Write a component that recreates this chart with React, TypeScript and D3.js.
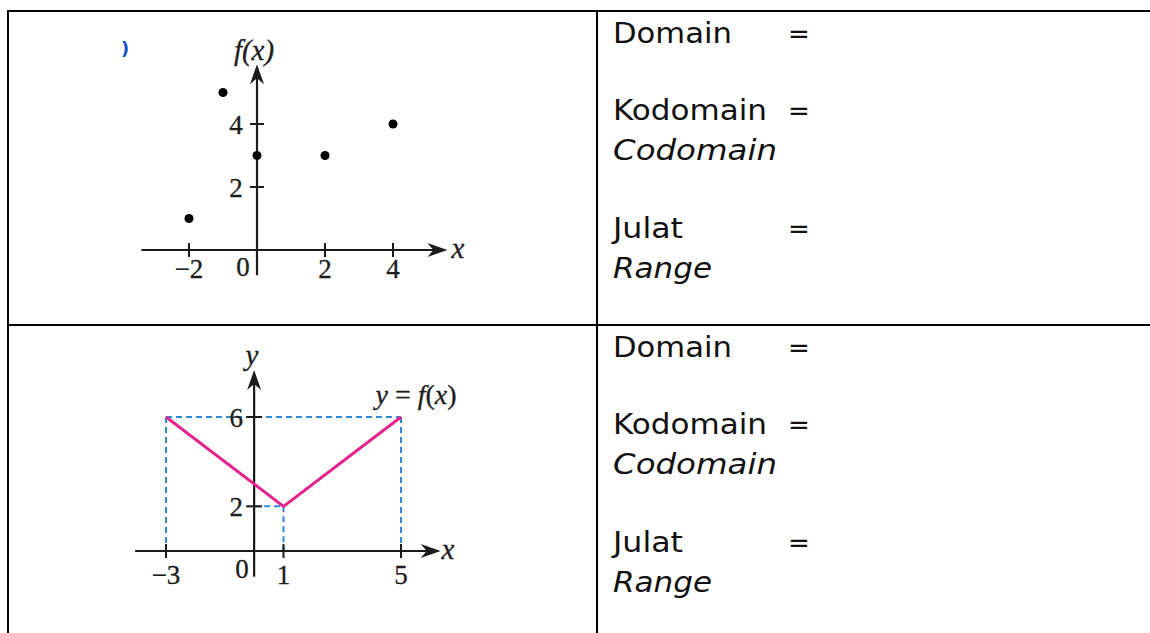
import React, { useEffect, useRef } from 'react'
import * as d3 from 'd3'

// chart 1: discrete points
const dotX = [-2, -1, 0, 2, 4]
const dotY = [1, 5, 3, 3, 4]
const c1XTicks = [-2, 2, 4]
const c1XTickLabels = ['\u22122', '2', '4']
const c1YTicks = [2, 4]
const c1YTickLabels = ['2', '4']

// chart 2: V shaped function
const lineX = [-3, 1, 5]
const lineY = [6, 2, 6]
const c2XTicks = [-3, 1, 5]
const c2XTickLabels = ['\u22123', '1', '5']
const c2YTicks = [2, 6]
const c2YTickLabels = ['2', '6']

// right column
const rowLines = ['Domain', 'Kodomain', 'Codomain', 'Julat', 'Range']
const rowItalic = [false, false, true, false, true]
const rowHasEq = [true, true, false, true, false]
const rowBaselines = [43, 120, 160, 238, 278]
const rowWidths = [119, 154, 164, 70, 99]

const W = 1150
const H = 633
const INK = '#1c1c1c'
const SERIF = '"Liberation Serif", "Times New Roman", serif'
const SANS = '"DejaVu Sans", "Liberation Sans", sans-serif'

const App = () => {
    const ref = useRef<SVGSVGElement>(null)

    useEffect(() => {
        const svg = d3.select(ref.current)
        svg.selectAll('*').remove()

        // table grid
        const grid = svg.append('g').attr('stroke', '#000').attr('stroke-width', 2)
        grid.append('line').attr('x1', 7).attr('x2', W).attr('y1', 11).attr('y2', 11)
        grid.append('line').attr('x1', 8).attr('x2', 8).attr('y1', 10).attr('y2', H)
        grid.append('line').attr('x1', 597).attr('x2', 597).attr('y1', 10).attr('y2', H)
        grid.append('line').attr('x1', 7).attr('x2', W).attr('y1', 325).attr('y2', 325)

        const arrowRight = (g, x, y) => g.append('path')
            .attr('d', `M${x},${y} L${x - 20},${y - 7} L${x - 14},${y} L${x - 20},${y + 7} Z`)
            .attr('fill', INK)
        const arrowUp = (g, x, y) => g.append('path')
            .attr('d', `M${x},${y} L${x - 7},${y + 20} L${x},${y + 14} L${x + 7},${y + 20} Z`)
            .attr('fill', INK)

        const label = (g, x, y, t, size = 27, italic = false) => g.append('text')
            .attr('x', x).attr('y', y)
            .attr('text-anchor', 'middle').attr('dominant-baseline', 'central')
            .attr('font-family', SERIF).attr('font-size', size)
            .attr('font-style', italic ? 'italic' : 'normal')
            .attr('fill', INK).attr('stroke', INK).attr('stroke-width', 0.3)
            .text(t)

        // ---------- chart 1 ----------
        const g1 = svg.append('g')
        const x1 = d3.scaleLinear().domain([-2, 4]).range([189, 393])
        const y1 = d3.scaleLinear().domain([0, 4]).range([250, 124])

        g1.append('line').attr('x1', x1(-3.4)).attr('x2', x1(5.5)).attr('y1', y1(0)).attr('y2', y1(0))
            .attr('stroke', INK).attr('stroke-width', 2.2)
        arrowRight(g1, x1(5.6), y1(0))
        g1.append('line').attr('x1', x1(0)).attr('x2', x1(0)).attr('y1', y1(-0.8)).attr('y2', y1(5.7))
            .attr('stroke', INK).attr('stroke-width', 2.2)
        arrowUp(g1, x1(0), y1(5.9))

        c1XTicks.forEach((v, i) => {
            g1.append('line').attr('x1', x1(v)).attr('x2', x1(v)).attr('y1', y1(0) - 7).attr('y2', y1(0) + 7)
                .attr('stroke', INK).attr('stroke-width', 2)
            label(g1, x1(v), 269, c1XTickLabels[i])
        })
        c1YTicks.forEach((v, i) => {
            g1.append('line').attr('x1', x1(0) - 7).attr('x2', x1(0) + 7).attr('y1', y1(v)).attr('y2', y1(v))
                .attr('stroke', INK).attr('stroke-width', 2)
            label(g1, x1(0) - 21, y1(v) + 1, c1YTickLabels[i])
        })
        label(g1, 243, 267, '0')
        label(g1, 458, 248, 'x', 29, true)
        label(g1, 254, 50, 'f(x)', 29, true)

        g1.selectAll('circle').data(dotX.map((d, i) => ({ x: d, y: dotY[i] })))
            .join('circle')
            .attr('cx', (d) => x1(d.x))
            .attr('cy', (d) => y1(d.y))
            .attr('r', 4.5)
            .attr('fill', '#000')

        // leftover of a cut-off label
        g1.append('text').attr('x', 121).attr('y', 55)
            .attr('font-family', SANS).attr('font-size', 18).attr('font-weight', 'bold')
            .attr('fill', '#1d4fc4').text(')')

        // ---------- chart 2 ----------
        const g2 = svg.append('g')
        const x2 = d3.scaleLinear().domain([-3, 5]).range([166, 401])
        const y2 = d3.scaleLinear().domain([0, 6]).range([551, 417])

        const dashed = g2.append('g').attr('stroke', '#2f8ad8').attr('stroke-width', 2)
            .attr('stroke-dasharray', '6,4').attr('fill', 'none')
        const dashSegs = [
            [[-3, 6], [5, 6]],
            [[-3, 6], [-3, 0]],
            [[5, 6], [5, 0]],
            [[0, 2], [1, 2]],
            [[1, 2], [1, 0]],
        ]
        dashed.selectAll('line').data(dashSegs).join('line')
            .attr('x1', (d) => x2(d[0][0])).attr('y1', (d) => y2(d[0][1]))
            .attr('x2', (d) => x2(d[1][0])).attr('y2', (d) => y2(d[1][1]))

        g2.append('line').attr('x1', x2(-4.05)).attr('x2', x2(6.2)).attr('y1', y2(0)).attr('y2', y2(0))
            .attr('stroke', INK).attr('stroke-width', 2.2)
        arrowRight(g2, x2(6.35), y2(0))
        g2.append('line').attr('x1', x2(0)).attr('x2', x2(0)).attr('y1', y2(-1.15)).attr('y2', y2(7.7))
            .attr('stroke', INK).attr('stroke-width', 2.2)
        arrowUp(g2, x2(0), y2(8.1))

        c2XTicks.forEach((v, i) => {
            g2.append('line').attr('x1', x2(v)).attr('x2', x2(v)).attr('y1', y2(0) - 7).attr('y2', y2(0) + 7)
                .attr('stroke', INK).attr('stroke-width', 2)
            label(g2, x2(v), 575, c2XTickLabels[i])
        })
        c2YTicks.forEach((v, i) => {
            g2.append('line').attr('x1', x2(0) - 8).attr('x2', x2(0) + 8).attr('y1', y2(v)).attr('y2', y2(v))
                .attr('stroke', INK).attr('stroke-width', 2)
            label(g2, x2(0) - 18, y2(v) + 1, c2YTickLabels[i])
        })
        label(g2, 242, 569, '0')
        label(g2, 448, 549, 'x', 29, true)
        label(g2, 252, 355, 'y', 29, true)

        const eq = g2.append('text').attr('x', 416).attr('y', 394)
            .attr('text-anchor', 'middle').attr('dominant-baseline', 'central')
            .attr('font-family', SERIF).attr('font-size', 28).attr('fill', INK)
            .attr('stroke', INK).attr('stroke-width', 0.3)
        eq.append('tspan').attr('font-style', 'italic').text('y')
        eq.append('tspan').text(' = ')
        eq.append('tspan').attr('font-style', 'italic').text('f')
        eq.append('tspan').text('(')
        eq.append('tspan').attr('font-style', 'italic').text('x')
        eq.append('tspan').text(')')

        const line = d3.line<number>().x((d) => x2(d)).y((d, i) => y2(lineY[i]))
        g2.append('path').attr('d', line(lineX))
            .attr('fill', 'none').attr('stroke', '#e6238c').attr('stroke-width', 3)
            .attr('stroke-linejoin', 'miter')

        // ---------- right column text ----------
        ;[0, 314].forEach((off) => {
            const tg = svg.append('g')
            rowLines.forEach((t, i) => {
                tg.append('text')
                    .attr('x', 613).attr('y', rowBaselines[i] + off)
                    .attr('font-family', SANS).attr('font-size', 28)
                    .attr('font-style', rowItalic[i] ? 'italic' : 'normal')
                    .attr('textLength', rowWidths[i]).attr('lengthAdjust', 'spacingAndGlyphs')
                    .attr('fill', '#111').text(t)
                if (rowHasEq[i]) {
                    tg.append('text')
                        .attr('x', 799).attr('y', rowBaselines[i] + off)
                        .attr('text-anchor', 'middle')
                        .attr('font-family', SANS).attr('font-size', 26)
                        .attr('fill', '#111').text('=')
                }
            })
        })
    }, [])

    return (
        <svg ref={ref} width={W} height={H}
            style={{ position: 'absolute', left: 0, top: 0, background: '#fff' }} />
    )
}

export default App
